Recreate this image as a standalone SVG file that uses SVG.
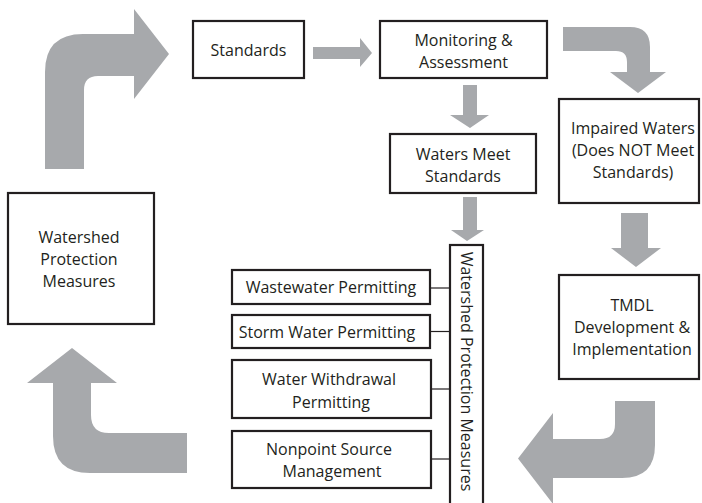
<svg xmlns="http://www.w3.org/2000/svg" width="702" height="503" viewBox="0 0 702 503">
<style>
.box{fill:#fff;stroke:#231f20;stroke-width:2.2}
.arr{fill:#a7a9ac;stroke:none}
.ln{stroke:#231f20;stroke-width:1.2;fill:none}
text{font-family:"Open Sans","Noto Sans","DejaVu Sans",sans-serif;font-size:16px;fill:#231f20;text-anchor:middle}
</style>
<rect width="702" height="503" fill="#fff"/>
<g id="connectors">
<path class="arr" d="M45,169 L45,72 Q45,34 83,34 L134,34 L134,9 L169,54 L134,99 L134,76 L98,76 Q84,76 84,90 L84,169 Z"/>
<path class="arr" d="M313,47 L360,47 L360,38 L372,53 L360,67 L360,59 L313,59 Z"/>
<path class="arr" d="M563,27 L630,27 Q650,27 650,47 L650,72 L666,72 L638,93 L610,72 L627,72 L627,62 Q627,51 616,51 L563,51 Z"/>
<path class="arr" d="M463,85 L477,85 L477,115 L489,115 L470,128 L450,115 L463,115 Z"/>
<path class="arr" d="M463,197 L477,197 L477,230 L484,230 L467,241 L451,230 L463,230 Z"/>
<path class="arr" d="M621,213 L648,213 L648,248 L661,248 L636,267 L611,248 L621,248 Z"/>
<path class="arr" d="M615,401 L655,401 L655,445 Q655,478 622,478 L553,478 L553,504 L518,458.5 L553,413 L553,439 L600,439 Q615,439 615,424 Z"/>
<path class="arr" d="M72,348 L117,383 L91,383 L91,415 Q91,433 109,433 L187,433 L187,473 L90,473 Q53,473 53,436 L53,383 L27,383 Z"/>
<line class="ln" x1="430" y1="288" x2="450" y2="288"/>
<line class="ln" x1="430" y1="331.5" x2="450" y2="331.5"/>
<line class="ln" x1="431" y1="389" x2="450" y2="389"/>
<line class="ln" x1="431" y1="459" x2="450" y2="459"/>
</g>
<g id="standards">
<rect class="box" x="193" y="21" width="111" height="57"/>
<text x="248.5" y="56">Standards</text>
</g>
<g id="monitoring">
<rect class="box" x="380" y="21" width="167" height="57"/>
<text x="463.5" y="46">Monitoring &amp;</text>
<text x="463.5" y="68">Assessment</text>
</g>
<g id="waters-meet">
<rect class="box" x="390" y="134" width="146" height="59"/>
<text x="463" y="160">Waters Meet</text>
<text x="463" y="182">Standards</text>
</g>
<g id="impaired">
<rect class="box" x="559" y="99" width="140" height="104"/>
<text x="633" y="134">Impaired Waters</text>
<text x="633" y="156">(Does NOT Meet</text>
<text x="633" y="178">Standards)</text>
</g>
<g id="tmdl">
<rect class="box" x="559" y="275" width="140" height="104"/>
<text x="632" y="311">TMDL</text>
<text x="632" y="333">Development &amp;</text>
<text x="632" y="355">Implementation</text>
</g>
<g id="watershed-left">
<rect class="box" x="8" y="193" width="146" height="131"/>
<text x="79" y="243">Watershed</text>
<text x="79" y="265">Protection</text>
<text x="79" y="287">Measures</text>
</g>
<g id="watershed-vertical">
<rect class="box" x="450" y="245" width="33" height="262"/>
<text transform="translate(461,371.5) rotate(90)">Watershed Protection  Measures</text>
</g>
<g id="wastewater">
<rect class="box" x="232" y="270" width="198" height="34"/>
<text x="331" y="293">Wastewater  Permitting</text>
</g>
<g id="stormwater">
<rect class="box" x="232" y="315" width="198" height="33"/>
<text x="327" y="338">Storm Water Permitting</text>
</g>
<g id="withdrawal">
<rect class="box" x="232" y="360" width="199" height="58"/>
<text x="329" y="385">Water Withdrawal</text>
<text x="331" y="408">Permitting</text>
</g>
<g id="nonpoint">
<rect class="box" x="232" y="431" width="199" height="57"/>
<text x="329" y="455">Nonpoint Source</text>
<text x="332" y="477">Management</text>
</g>
</svg>
